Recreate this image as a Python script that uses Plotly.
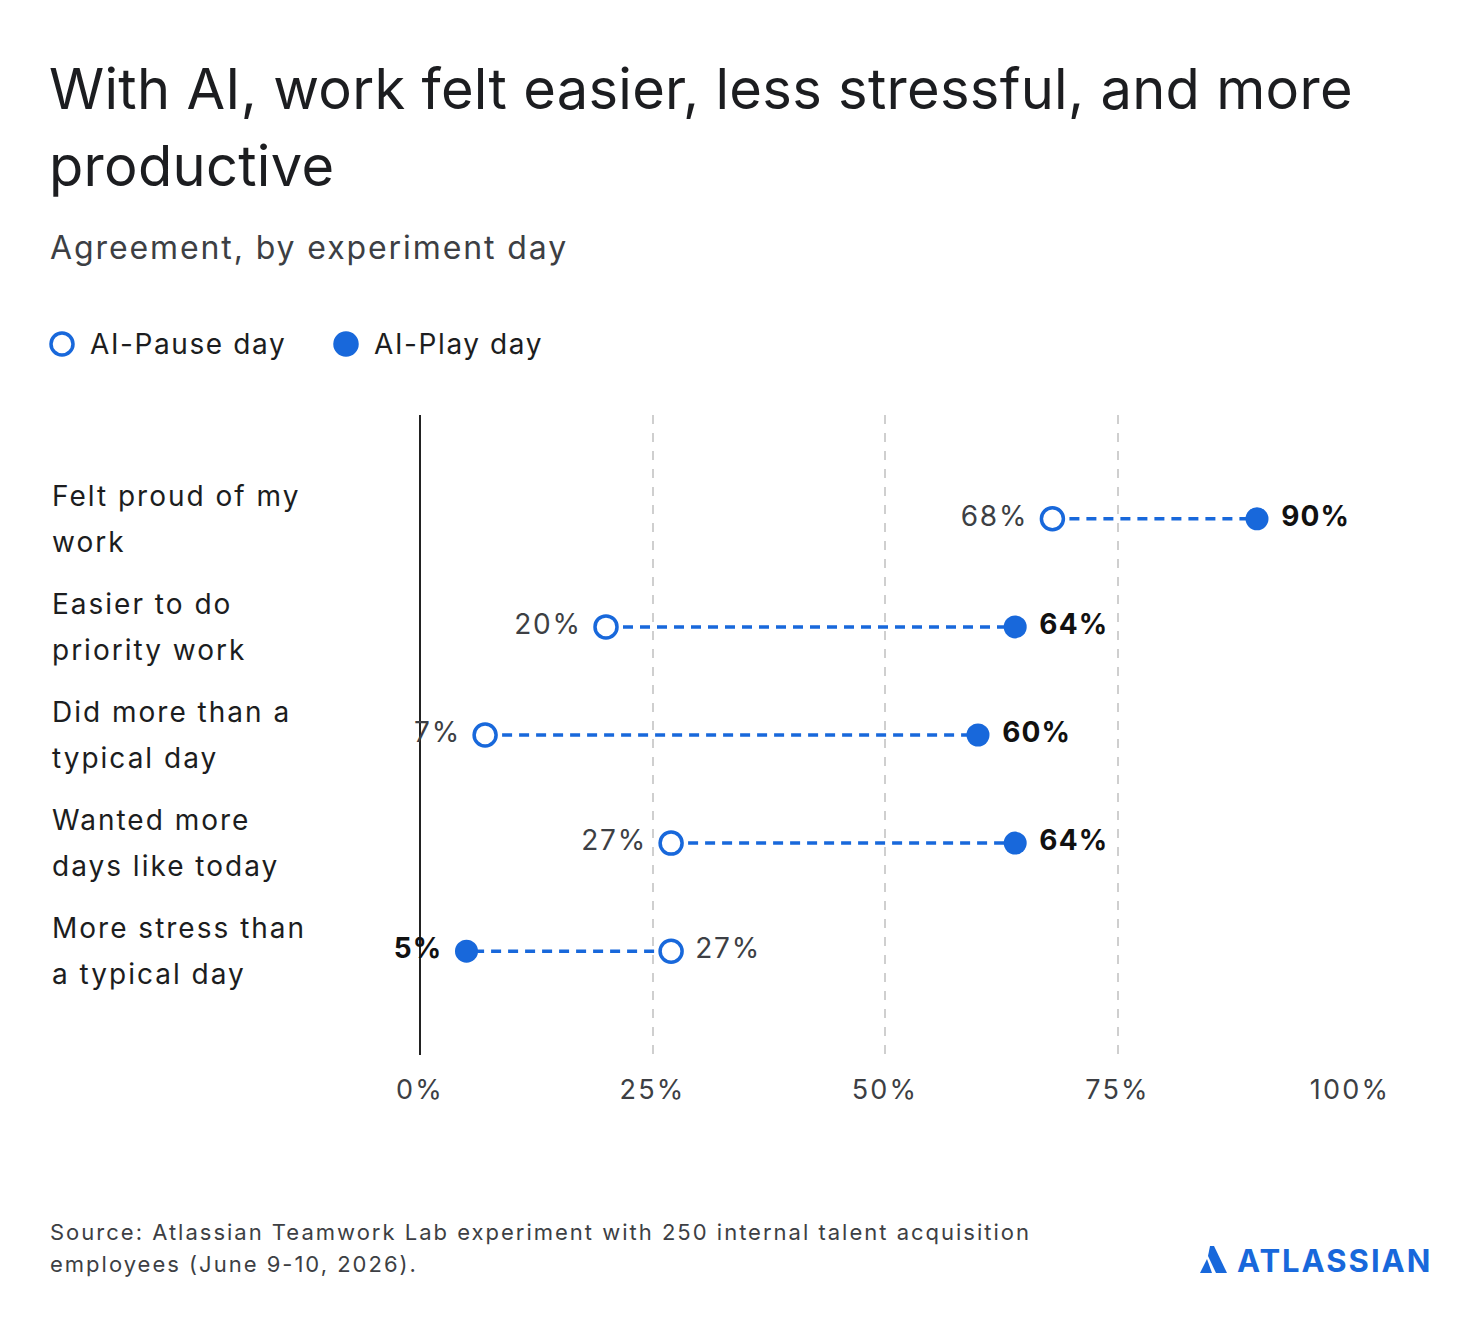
import plotly.graph_objects as go

# Data
categories = [
    "Felt proud of my<br>work",
    "Easier to do<br>priority work",
    "Did more than a<br>typical day",
    "Wanted more<br>days like today",
    "More stress than<br>a typical day",
]
pause_day = [68, 20, 7, 27, 27]
play_day = [90, 64, 60, 64, 5]
tick_vals = [0, 25, 50, 75, 100]
tick_text = ["0%", "25%", "50%", "75%", "100%"]

BLUE = "#1868DB"
DARK = "#1c1d20"
GRAY = "#3d3f44"
FONT = "Inter, sans-serif"

# the page puts the figure 8px in from the top-left corner
OFF = 8
W, H = 1480 - OFF, 1330 - OFF
# plot area in page pixels
L, R, T, B = 420, 1350, 415, 1055


def px_x(p):
    return (p - L) / (R - L)


def px_y(p):
    return (B - p) / (B - T)


def sp(text, ls):
    # wider letter spacing, the original face runs wide
    return f'<span style="letter-spacing:{ls}px">{text}</span>'


rows = list(range(len(categories)))
fig = go.Figure()

# dotted connectors
lx, ly = [], []
for i in rows:
    lx += [pause_day[i], play_day[i], None]
    ly += [i, i, None]
fig.add_trace(go.Scatter(x=lx, y=ly, mode="lines", hoverinfo="skip",
                         line=dict(color=BLUE, width=3.5, dash="10px,7px"),
                         showlegend=False, cliponaxis=False))

fig.add_trace(go.Scatter(
    x=pause_day, y=rows, mode="markers", name="AI-Pause day",
    marker=dict(size=22, color="white", line=dict(color=BLUE, width=3.5)),
    showlegend=False, cliponaxis=False))
fig.add_trace(go.Scatter(
    x=play_day, y=rows, mode="markers", name="AI-Play day",
    marker=dict(size=23, color=BLUE, line=dict(color=BLUE, width=0)),
    showlegend=False, cliponaxis=False))

# value labels, carried on clear markers so they sit further from the dots
pause_pos = ["middle left" if p < q else "middle right" for p, q in zip(pause_day, play_day)]
play_pos = ["middle right" if q > p else "middle left" for p, q in zip(pause_day, play_day)]
clear = dict(size=37, color="rgba(0,0,0,0)", line=dict(width=0))

fig.add_trace(go.Scatter(
    x=pause_day, y=rows, mode="markers+text", hoverinfo="skip",
    text=[sp(f"{v}%", 1.8) for v in pause_day], textposition=pause_pos,
    textfont=dict(family=FONT, size=28, color=GRAY),
    marker=clear, showlegend=False, cliponaxis=False))
fig.add_trace(go.Scatter(
    x=play_day, y=rows, mode="markers+text", hoverinfo="skip",
    text=[f"<b>{sp(f'{v}%', 1.2)}</b>" for v in play_day], textposition=play_pos,
    textfont=dict(family=FONT, size=28, color="#111111"),
    marker=clear, showlegend=False, cliponaxis=False))

ann = []
# row labels, one annotation per line for wider line spacing
for i, lab in enumerate(categories):
    parts = lab.split("<br>")
    for k, part in enumerate(parts):
        ann.append(dict(x=px_x(50), xref="paper", y=i, yref="y", yshift=23 - 46 * k,
                        text=sp(part, 2), showarrow=False, xanchor="left", yanchor="middle",
                        font=dict(family=FONT, size=28, color=DARK)))

title_lines = ["With AI, work felt easier, less stressful, and more", "productive"]
for k, line in enumerate(title_lines):
    ann.append(dict(x=px_x(47), xref="paper", y=px_y(89 + 77 * k), yref="paper",
                    text=sp(line, 0.3), showarrow=False, xanchor="left", yanchor="middle",
                    font=dict(family=FONT, size=56, color=DARK)))

ann.append(dict(x=px_x(48), xref="paper", y=px_y(248), yref="paper",
                text=sp("Agreement, by experiment day", 1.9), showarrow=False,
                xanchor="left", yanchor="middle",
                font=dict(family=FONT, size=32, color=GRAY)))

# legend
ann.append(dict(x=px_x(88), xref="paper", y=px_y(344), yref="paper",
                text=sp("AI-Pause day", 1.6),
                showarrow=False, xanchor="left", yanchor="middle",
                font=dict(family=FONT, size=28, color=DARK)))
ann.append(dict(x=px_x(372), xref="paper", y=px_y(344), yref="paper",
                text=sp("AI-Play day", 1.6),
                showarrow=False, xanchor="left", yanchor="middle",
                font=dict(family=FONT, size=28, color=DARK)))

source_lines = ["Source: Atlassian Teamwork Lab experiment with 250 internal talent acquisition",
                "employees (June 9-10, 2026)."]
for k, line in enumerate(source_lines):
    ann.append(dict(x=px_x(48), xref="paper", y=px_y(1232 + 32 * k), yref="paper",
                    text=sp(line, 2.0), showarrow=False, xanchor="left", yanchor="middle",
                    font=dict(family=FONT, size=22, color=GRAY)))

ann.append(dict(x=px_x(1434), xref="paper", y=px_y(1260), yref="paper",
                text=f"<b>{sp('ATLASSIAN', 2)}</b>", showarrow=False,
                xanchor="right", yanchor="middle",
                font=dict(family=FONT, size=31, color=BLUE)))

shapes = []
for cx, filled in [(62, False), (346, True)]:
    shapes.append(dict(type="circle", xref="paper", yref="paper",
                       xsizemode="pixel", ysizemode="pixel",
                       xanchor=px_x(cx), yanchor=px_y(344),
                       x0=-11, x1=11, y0=-11, y1=11,
                       fillcolor=BLUE if filled else "white",
                       line=dict(color=BLUE, width=3.5)))


def path(pts):
    return "M " + " L ".join(f"{px_x(a)},{px_y(b)}" for a, b in pts) + " Z"


# Atlassian mark
shapes.append(dict(type="path", xref="paper", yref="paper", line=dict(width=0),
                   fillcolor=BLUE, path=path([(1200, 1273), (1207, 1259), (1212, 1273)])))
shapes.append(dict(type="path", xref="paper", yref="paper", line=dict(width=0),
                   fillcolor=BLUE, path=path([(1210, 1246), (1214, 1246), (1227, 1273),
                                              (1216, 1273), (1208, 1256)])))

fig.update_layout(
    width=W, height=H, plot_bgcolor="white", paper_bgcolor="white",
    margin=dict(l=L - OFF, r=1480 - R, t=T - OFF, b=1330 - B),
    annotations=ann, shapes=shapes, showlegend=False,
    xaxis=dict(range=[0, 100], tickvals=tick_vals, ticktext=[sp(t, 2.2) for t in tick_text],
               showgrid=True, gridcolor="#cfcfcf", gridwidth=1.5, griddash="dash",
               zeroline=True, zerolinecolor="#222222", zerolinewidth=1.5,
               showline=False, ticks="", ticklabelstandoff=16,
               tickfont=dict(family=FONT, size=27, color=GRAY), fixedrange=True),
    yaxis=dict(range=[len(categories) - 0.04, -0.96], showgrid=False, zeroline=False,
               showticklabels=False, showline=False, fixedrange=True),
)

fig.write_html("out.html")
